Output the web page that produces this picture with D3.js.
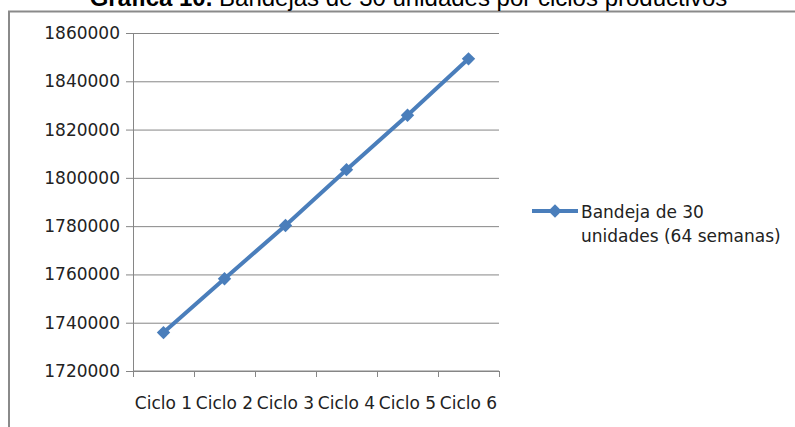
<!DOCTYPE html>
<html lang="es">
<head>
    <meta charset="UTF-8">
    <title>Bandejas de 30 unidades</title>
    <script src="https://cdnjs.cloudflare.com/ajax/libs/d3/7.8.5/d3.min.js"></script>
    <style>
        body { margin: 0; background: #fff; }
        svg { display: block; }
    </style>
</head>
<body>
<svg id="chart" width="795" height="427"></svg>
<script>
    // data
    var ciclos = ["Ciclo 1", "Ciclo 2", "Ciclo 3", "Ciclo 4", "Ciclo 5", "Ciclo 6"];
    var bandejas = [1735900, 1758200, 1780300, 1803400, 1825900, 1849300];
    var yTicks = [1720000, 1740000, 1760000, 1780000, 1800000, 1820000, 1840000, 1860000];
    var serieNombre = ["Bandeja de 30", "unidades (64 semanas)"];

    var svg = d3.select("#chart");
    var azul = "#4a7ebb", gris = "#868686";
    var fuente = "DejaVu Sans";

    // outer frame (cut off at right and bottom)
    svg.append("rect")
        .attr("x", 9).attr("y", 11.5)
        .attr("width", 820).attr("height", 440)
        .attr("fill", "none")
        .attr("stroke", "#8a8a8a")
        .attr("stroke-width", 2);

    // title, mostly cut off at the top
    var titulo = svg.append("text")
        .attr("x", 408.5).attr("y", 5.5)
        .attr("text-anchor", "middle")
        .style("font-family", "Liberation Sans, Arial")
        .style("font-size", "24px")
        .attr("fill", "#000");
    titulo.append("tspan").style("font-weight", "bold").text("Gráfica 10.");
    titulo.append("tspan").text(" Bandejas de 30 unidades por ciclos productivos");

    var x = d3.scaleBand().domain(ciclos).range([133, 499]);
    var y = d3.scaleLinear().domain([1720000, 1860000]).range([371, 33]);

    // gridlines + y ticks
    svg.append("g")
        .attr("transform", "translate(133,0)")
        .call(d3.axisLeft(y).tickValues(yTicks).tickSize(-366).tickPadding(13).tickFormat(d3.format("d")))
        .call(function (g) {
            g.select(".domain").remove();
            g.selectAll(".tick line").attr("stroke", gris).attr("x1", -7).attr("x2", 366);
            g.selectAll(".tick text")
                .attr("fill", "#222")
                .style("font-family", fuente)
                .style("font-size", "17px");
        });

    // y axis line
    svg.append("line")
        .attr("x1", 133.5).attr("x2", 133.5)
        .attr("y1", y(1860000)).attr("y2", y(1720000))
        .attr("stroke", gris);

    // x axis with ticks at category boundaries
    var xAxis = svg.append("g").attr("transform", "translate(0," + y(1720000) + ")");
    xAxis.append("line")
        .attr("x1", 133).attr("x2", 499)
        .attr("stroke", gris);
    xAxis.selectAll("line.tk")
        .data(ciclos.concat(["fin"]))
        .enter().append("line")
        .attr("class", "tk")
        .attr("x1", function (d, i) { return Math.round(133 + i * x.bandwidth()) + 0.5; })
        .attr("x2", function (d, i) { return Math.round(133 + i * x.bandwidth()) + 0.5; })
        .attr("y1", 0).attr("y2", 6)
        .attr("stroke", gris);
    xAxis.selectAll("text")
        .data(ciclos)
        .enter().append("text")
        .attr("x", function (d) { return x(d) + x.bandwidth() / 2; })
        .attr("y", 38)
        .attr("text-anchor", "middle")
        .attr("fill", "#222")
        .style("font-family", fuente)
        .style("font-size", "17px")
        .text(function (d) { return d; });

    // series line
    var linea = d3.line()
        .x(function (d, i) { return x(ciclos[i]) + x.bandwidth() / 2; })
        .y(function (d) { return y(d); });

    svg.append("path")
        .datum(bandejas)
        .attr("d", linea)
        .attr("fill", "none")
        .attr("stroke", azul)
        .attr("stroke-width", 4);

    var rombo = d3.symbol().type(d3.symbolSquare).size(90);
    svg.selectAll("path.punto")
        .data(bandejas)
        .enter().append("path")
        .attr("class", "punto")
        .attr("d", rombo)
        .attr("fill", azul)
        .attr("transform", function (d, i) {
            return "translate(" + (x(ciclos[i]) + x.bandwidth() / 2) + "," + y(d) + ") rotate(45)";
        });

    // legend
    var leyenda = svg.append("g");
    leyenda.append("line")
        .attr("x1", 532).attr("x2", 578)
        .attr("y1", 211).attr("y2", 211)
        .attr("stroke", azul).attr("stroke-width", 4);
    leyenda.append("path")
        .attr("d", rombo)
        .attr("fill", azul)
        .attr("transform", "translate(555,211) rotate(45)");
    leyenda.selectAll("text")
        .data(serieNombre)
        .enter().append("text")
        .attr("x", 581)
        .attr("y", function (d, i) { return 218 + i * 23.5; })
        .attr("fill", "#222")
        .style("font-family", fuente)
        .style("font-size", "17px")
        .text(function (d) { return d; });
</script>
</body>
</html>
